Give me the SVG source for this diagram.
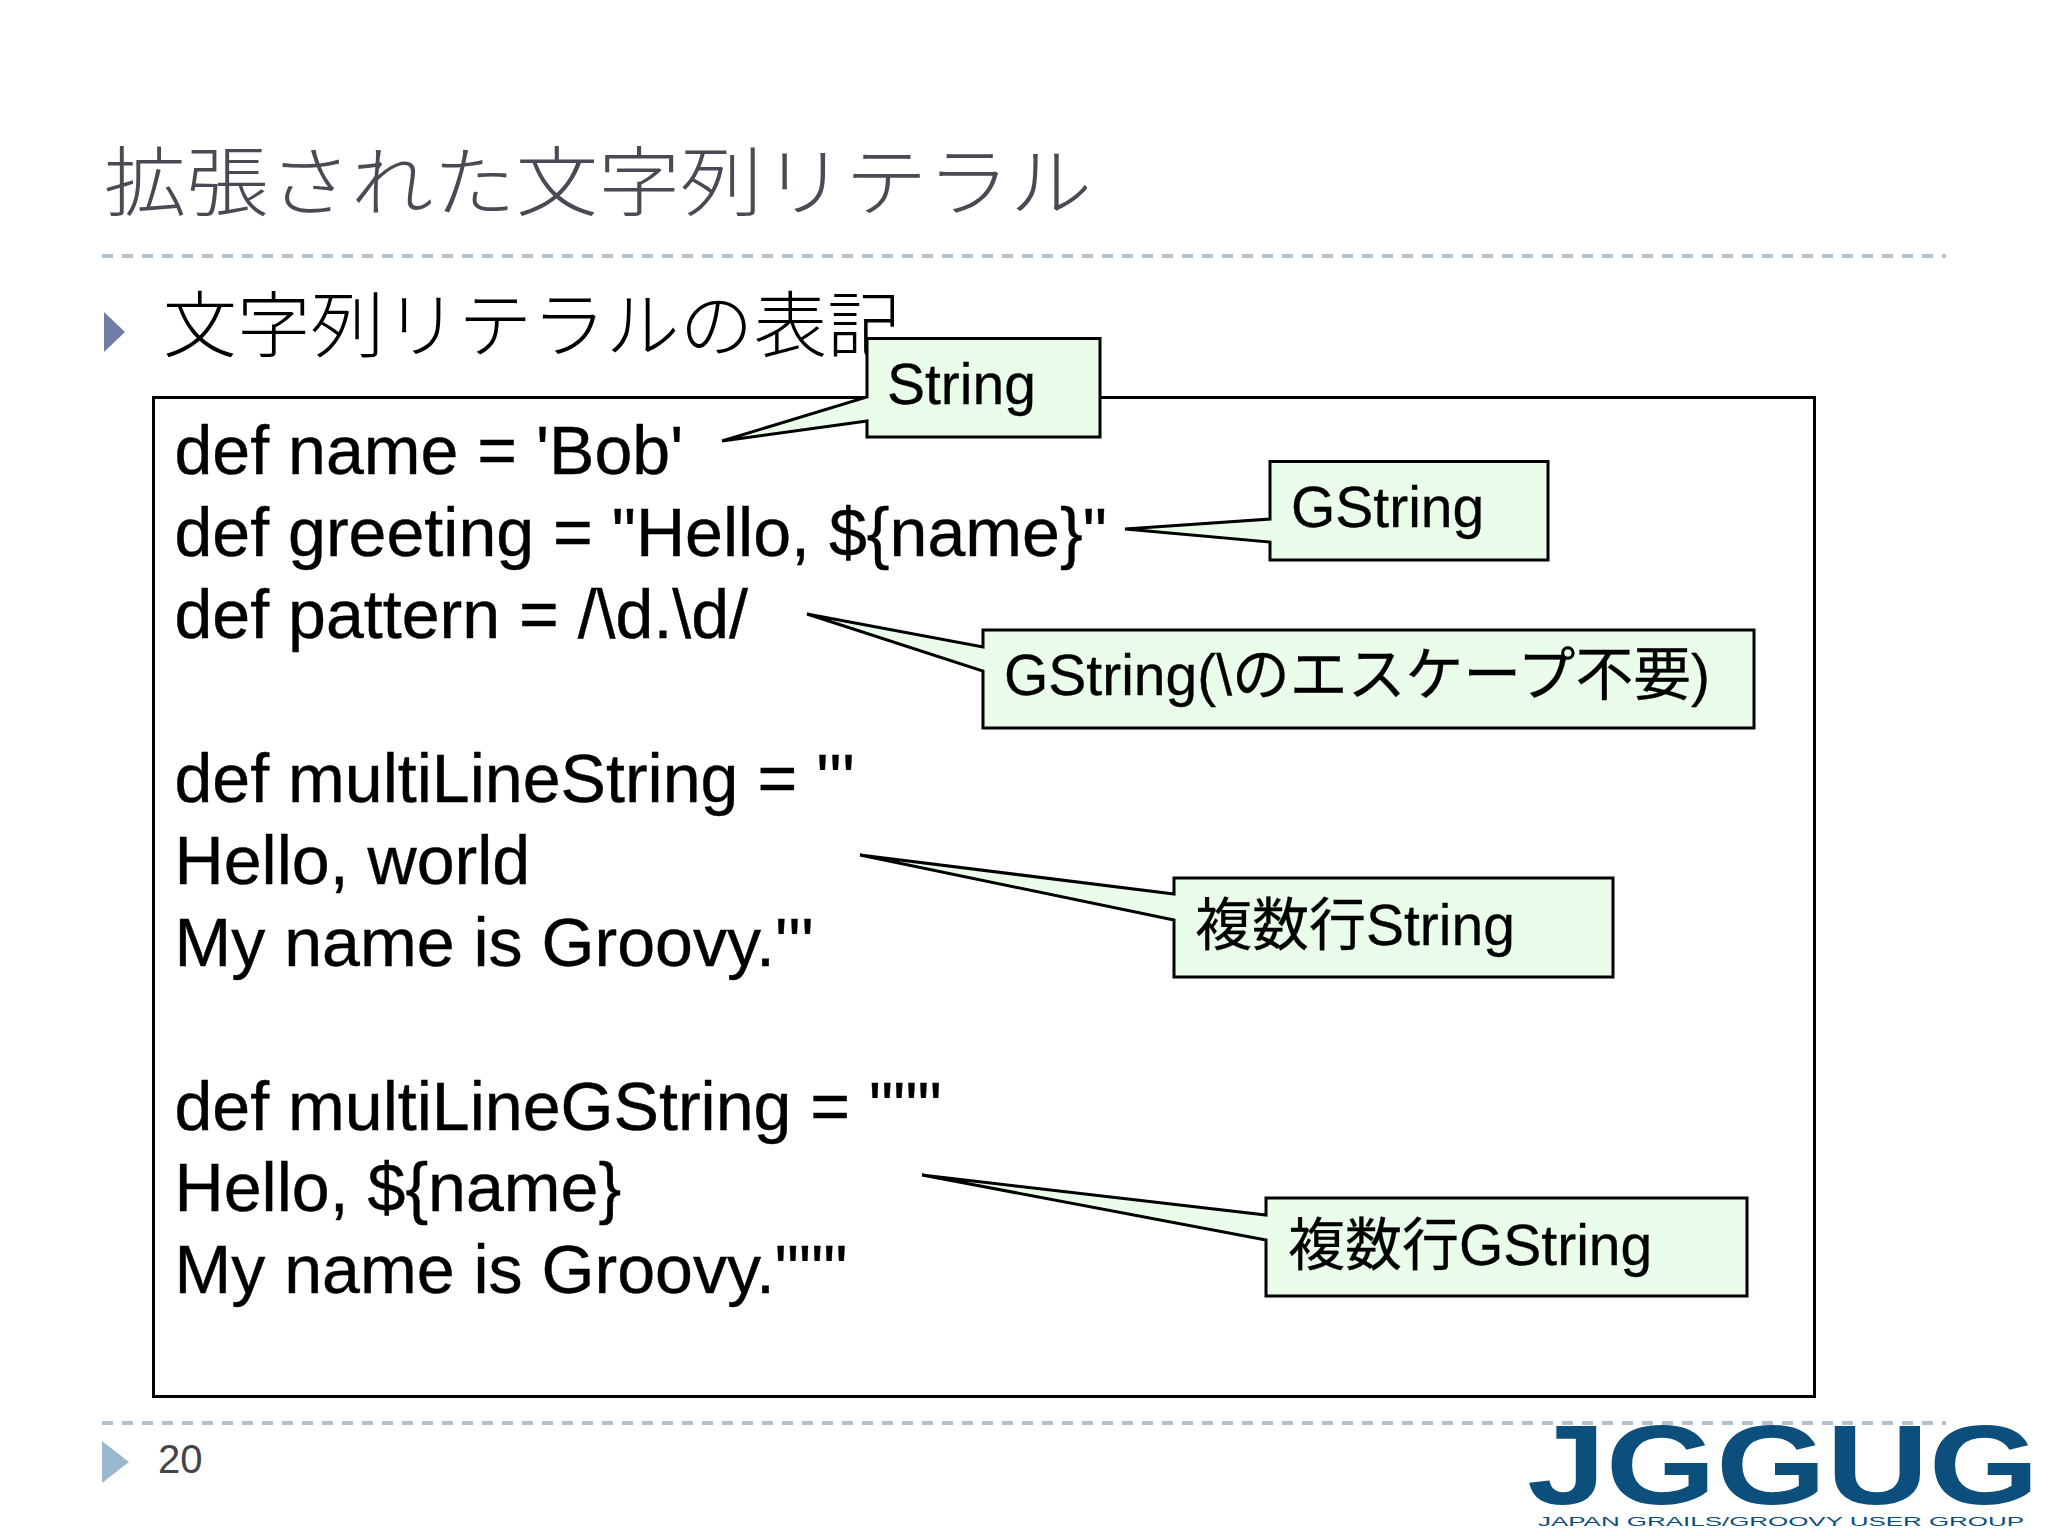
<svg xmlns="http://www.w3.org/2000/svg" width="2048" height="1536" viewBox="0 0 2048 1536">
<style>
text{font-family:"Liberation Sans","Noto Sans CJK JP",sans-serif}
.jp{font-family:"Noto Sans CJK JP",sans-serif;font-weight:300}
.code{font-size:68.100px;fill:#000;stroke:#000;stroke-width:.4}
.call{font-size:57px;fill:#000;stroke:#000;stroke-width:.3}
.callout{fill:#eafdea;stroke:#000;stroke-width:3;stroke-linejoin:miter}
.dash{stroke:#b3c2cf;stroke-width:4;stroke-dasharray:11 9;fill:none}
.logo{fill:#0c4f7d}
</style>
<rect width="2048" height="1536" fill="#fff"/>
<g id="title"><text class="jp" x="104" y="210" font-size="76" fill="#4a4a55" textLength="988" lengthAdjust="spacingAndGlyphs">拡張された文字列リテラル</text></g>
<line id="rule-top" class="dash" x1="102" y1="256" x2="1946" y2="256"/>
<g id="bullet"><polygon points="104,312 125,332 104,352" fill="#6f7ca6"/>
<text class="jp" x="163" y="351" font-size="72" fill="#000" textLength="738" lengthAdjust="spacingAndGlyphs">文字列リテラルの表記</text></g>
<g id="code-box"><rect x="153.500" y="397.500" width="1661" height="999" fill="#fff" stroke="#000" stroke-width="3"/>
<text class="code" x="174.500" y="474">def name = 'Bob'</text>
<text class="code" x="174.500" y="556">def greeting = "Hello, ${name}"</text>
<text class="code" x="174.500" y="638">def pattern = /\d.\d/</text>
<text class="code" x="174.500" y="802">def multiLineString = '''</text>
<text class="code" x="174.500" y="884">Hello, world</text>
<text class="code" x="174.500" y="966">My name is Groovy.'''</text>
<text class="code" x="174.500" y="1130">def multiLineGString = """</text>
<text class="code" x="174.500" y="1211">Hello, ${name}</text>
<text class="code" x="174.500" y="1293">My name is Groovy."""</text></g>
<g id="connectors"></g>
<g id="callout-string"><path class="callout" d="M867 338.500H1100V437H867V421L722 441L867 397Z"/><text class="call" x="887" y="404">String</text></g>
<g id="callout-gstring"><path class="callout" d="M1270 461.500H1548V560H1270V542L1125 529L1270 519Z"/><text class="call" x="1291" y="527">GString</text></g>
<g id="callout-regex"><path class="callout" d="M983 630H1754V728H983V671L807 614L983 647Z"/><text class="call" x="1004" y="695">GString(\<tspan font-size="57.800">のエスケープ不要</tspan>)</text></g>
<g id="callout-multi"><path class="callout" d="M1174 878H1613V977H1174V920L860 855L1174 894Z"/><text class="call" x="1195" y="945">複数行String</text></g>
<g id="callout-multig"><path class="callout" d="M1266 1198H1747V1296H1266V1240L922 1175L1266 1215Z"/><text class="call" x="1288" y="1265">複数行GString</text></g>
<line id="rule-bottom" class="dash" x1="102" y1="1423" x2="1946" y2="1423"/>
<g id="footer"><polygon points="102,1441 129,1462 102,1483" fill="#9bb7cf"/>
<text x="158" y="1473" font-size="40" fill="#44444c">20</text></g>
<g id="logo"><text class="logo" x="1527" y="1504" font-size="113" font-weight="700" textLength="512" lengthAdjust="spacingAndGlyphs">JGGUG</text>
<text class="logo" x="1538" y="1526" font-size="12.500" textLength="486" lengthAdjust="spacingAndGlyphs">JAPAN GRAILS/GROOVY USER GROUP</text></g>
</svg>
